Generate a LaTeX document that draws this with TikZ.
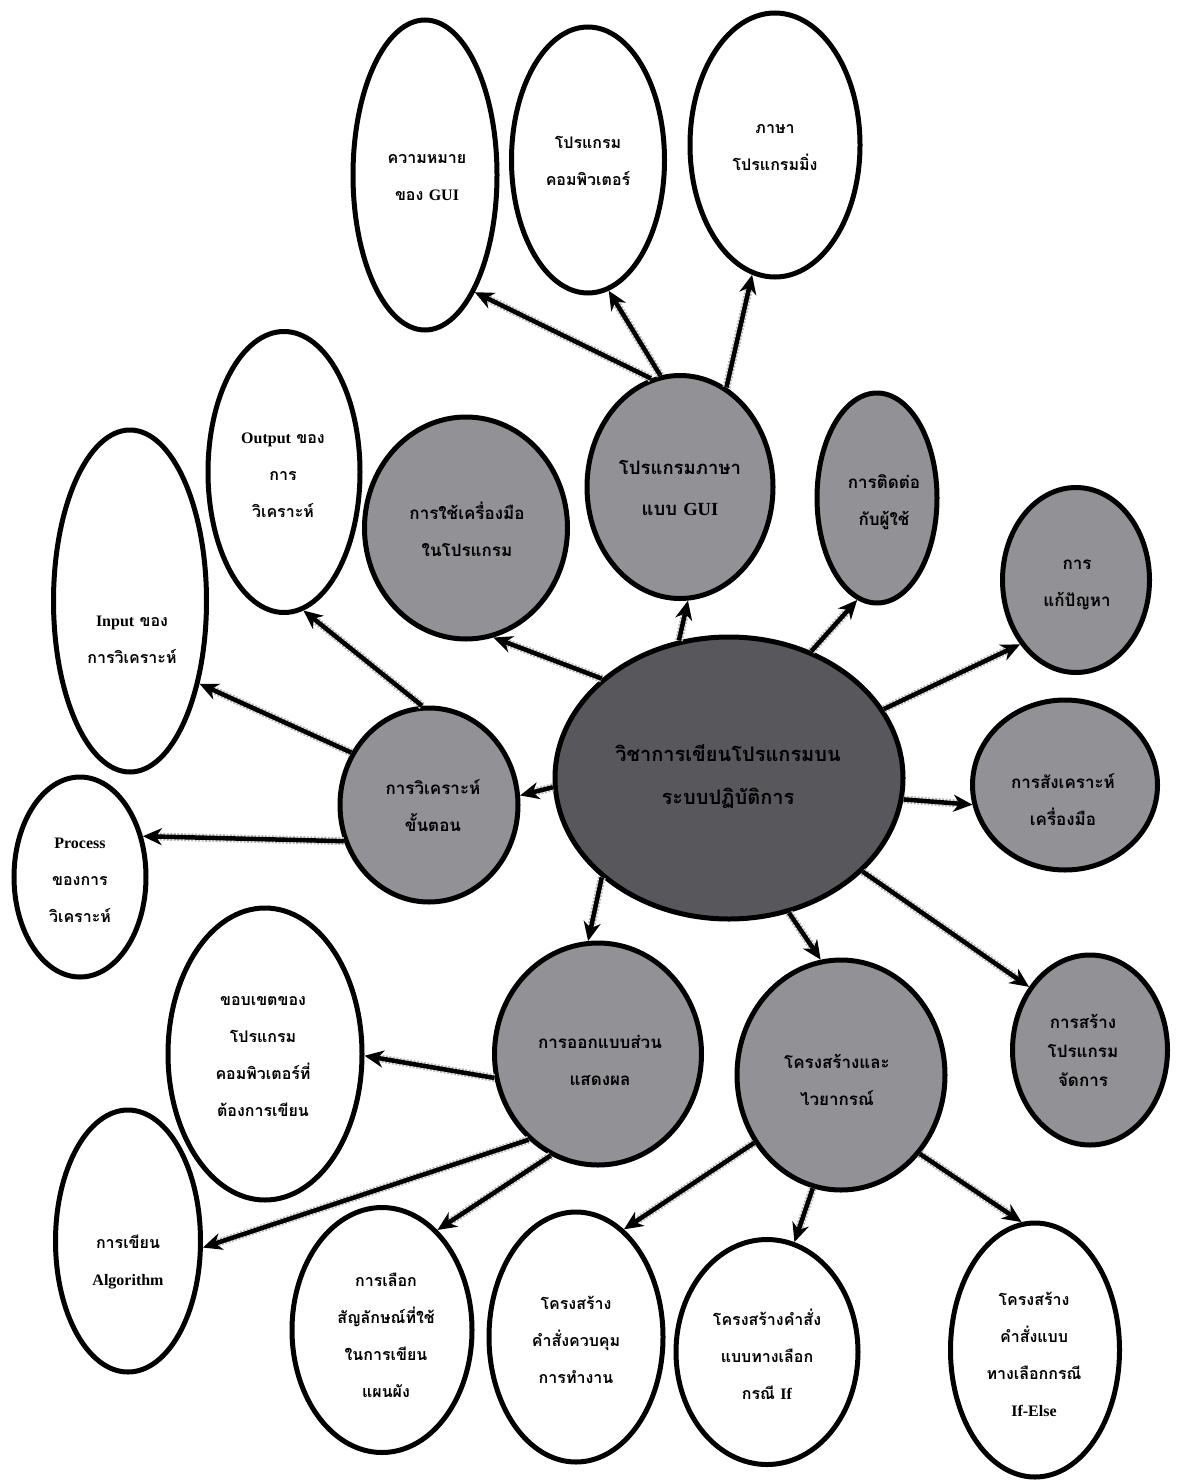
\documentclass[tikz,border=0pt]{standalone}
\usepackage{fontspec}
\newfontfamily\thai[Script=Thai]{Loma}
\newfontfamily\lat{Liberation Serif}
\usetikzlibrary{arrows.meta,shapes.geometric}

\definecolor{shade}{RGB}{145,145,150}
\definecolor{core}{RGB}{88,88,92}

\tikzset{
  bubble/.style={ellipse, draw=black, line width=5pt, fill=white, inner sep=0pt},
  greybub/.style={bubble, fill=shade},
  sz/.style 2 args={minimum width=#1pt, minimum height=#2pt},
  txt/.style={align=center, inner sep=0pt, font=\thai\bfseries\fontsize{16}{37}\selectfont},
  gtxt/.style={align=center, inner sep=0pt, font=\thai\bfseries\fontsize{17}{37}\selectfont},
  link/.style={line width=4.5pt, -{Stealth[length=19pt,width=17pt,inset=6pt]},
    preaction={draw=gray!55, line width=8pt, dash pattern=on 2pt off 1.5pt, -, shorten >=12pt}},
}

\begin{document}
\begin{tikzpicture}[x=1pt, y=-1pt]
\useasboundingbox (0,0) rectangle (1178,1480);

% outer ring of topics
\node[bubble, sz={144}{310}] (gdef)  at (425,175)  {};
\node[bubble, sz={153}{266}] (gprog) at (588,160)  {};
\node[bubble, sz={170}{264}] (glang) at (775,145)  {};
\node[bubble, sz={152}{281}] (out)   at (284,472)  {};
\node[bubble, sz={153}{342}] (inp)   at (130,601)  {};
\node[bubble, sz={132}{200}] (proc)  at (80,877)   {};
\node[bubble, sz={194}{292}] (scope) at (265,1054) {};
\node[bubble, sz={145}{262}] (algo)  at (128,1241) {};
\node[bubble, sz={180}{245}] (sym)   at (382,1330) {};
\node[bubble, sz={174}{250}] (ctrl)  at (576,1337) {};
\node[bubble, sz={182}{225}] (cif)   at (767,1352) {};
\node[bubble, sz={169}{254}] (celse) at (1035,1350) {};

% grey sub-topics
\node[greybub, sz={186}{223}] (gui)   at (680,487)  {};
\node[greybub, sz={203}{222}] (tool)  at (466,528)  {};
\node[greybub, sz={120}{210}] (ux)    at (877,498)  {};
\node[greybub, sz={147}{185}] (solve) at (1076,580) {};
\node[greybub, sz={185}{170}] (synth) at (1065,785) {};
\node[greybub, sz={155}{190}] (build) at (1090,1050) {};
\node[greybub, sz={178}{194}] (ana)   at (429,805)  {};
\node[greybub, sz={207}{222}] (disp)  at (598,1054) {};
\node[greybub, sz={208}{230}] (syn)   at (841,1075) {};

% main subject
\node[bubble, fill=core, sz={348}{282}] (main) at (729,778) {};

% connectors
\draw[link] (gui.105)   -- (gdef.-67);
\draw[link] (gui.100)   -- (gprog.-81);
\draw[link] (gui.65)    -- (glang.-100);
\draw[link] (main.110)  -- (gui.-86);
\draw[link] (main.142)  -- (tool.-76);
\draw[link] (main.57)   -- (ux.-101);
\draw[link] (main.24)   -- (solve.-131);
\draw[link] (main.-7)   -- (synth.-168);
\draw[link] (main.-35)  -- (build.134);
\draw[link] (main.-66)  -- (syn.100);
\draw[link] (main.-142) -- (disp.95);
\draw[link] (main.-177) -- (ana.6);
\draw[link] (ana.94)    -- (out.-82);
\draw[link] (ana.146)   -- (inp.-50);
\draw[link] (ana.-157)  -- (proc.33);
\draw[link] (disp.-167) -- (scope.-1);
\draw[link] (disp.-129) -- (algo.-5);
\draw[link] (disp.-115) -- (sym.61);
\draw[link] (syn.-142)  -- (ctrl.66);
\draw[link] (syn.-104)  -- (cif.76);
\draw[link] (syn.-45)   -- (celse.96);

% labels
\node[txt] (tgdef)  at (427,178)  {ความหมาย\\ของ {\lat GUI}};
\node[txt] (tgprog) at (588,161)  {โปรแกรม\\คอมพิวเตอร์};
\node[txt] (tglang) at (775,148)  {ภาษา\\โปรแกรมมิ่ง};
\node[txt] (tout)   at (283,475)  {{\lat Output} ของ\\การ\\วิเคราะห์};
\node[txt] (tinp)   at (132,640)  {{\lat Input} ของ\\การวิเคราะห์};
\node[txt] (tproc)  at (80,880)   {{\lat Process}\\ของการ\\วิเคราะห์};
\node[txt] (tscope) at (263,1057) {ขอบเขตของ\\โปรแกรม\\คอมพิวเตอร์ที่\\ต้องการเขียน};
\node[txt] (talgo)  at (128,1262) {การเขียน\\{\lat Algorithm}};
\node[txt] (tsym)   at (386,1335) {การเลือก\\สัญลักษณ์ที่ใช้\\ในการเขียน\\แผนผัง};
\node[txt] (tctrl)  at (576,1340) {โครงสร้าง\\คำสั่งควบคุม\\การทำงาน};
\node[txt] (tcif)   at (767,1354) {โครงสร้างคำสั่ง\\แบบทางเลือก\\กรณี {\lat If}};
\node[txt] (tcelse) at (1034,1354) {โครงสร้าง\\คำสั่งแบบ\\ทางเลือกกรณี\\{\lat If-Else}};

\node[gtxt, font=\thai\bfseries\fontsize{18.5}{41}\selectfont] (tgui) at (680,488) {โปรแกรมภาษา\\แบบ {\lat GUI}};
\node[gtxt] (ttool)  at (467,529)  {การใช้เครื่องมือ\\ในโปรแกรม};
\node[gtxt] (tux)    at (884,502)  {การติดต่อ\\กับผู้ใช้};
\node[gtxt] (tsolve) at (1077,585) {การ\\แก้ปัญหา};
\node[gtxt] (tsynth) at (1063,800) {การสังเคราะห์\\เครื่องมือ};
\node[gtxt, font=\thai\bfseries\fontsize{17}{29}\selectfont] (tbuild) at (1083,1050) {การสร้าง\\โปรแกรม\\จัดการ};
\node[gtxt] (tana)   at (433,806)  {การวิเคราะห์\\ขั้นตอน};
\node[gtxt] (tdisp)  at (600,1060) {การออกแบบส่วน\\แสดงผล};
\node[gtxt] (tsyn)   at (837,1080) {โครงสร้างและ\\ไวยากรณ์};
\node[gtxt, font=\thai\bfseries\fontsize{20}{43}\selectfont] (tmain) at (728,777) {วิชาการเขียนโปรแกรมบน\\ระบบปฏิบัติการ};
\end{tikzpicture}
\end{document}
